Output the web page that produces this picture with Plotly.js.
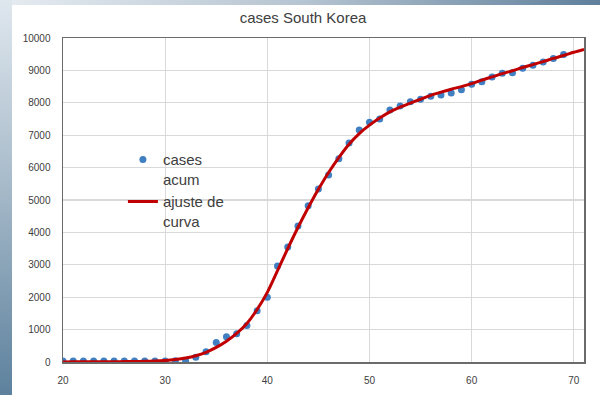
<!DOCTYPE html>
<html>
<head>
<meta charset="utf-8">
<script src="https://cdn.plot.ly/plotly-3.0.1.min.js"></script>
<style>
  html, body { margin: 0; padding: 0; background: #ffffff; }
  #wrap { position: relative; width: 600px; height: 395px; overflow: hidden; }
  #chart { position: absolute; left: 0; top: 0; width: 600px; height: 395px; }
  #leftStripe { position: absolute; left: 0; top: 0; width: 12px; height: 395px;
    background: linear-gradient(to bottom, #dfe7ee 0%, #a9bccb 45%, #5d819d 100%); pointer-events: none; }
  #topStripe { position: absolute; left: 12px; top: 0; width: 588px; height: 5px;
    background: linear-gradient(to right, #e4eaf0 0%, #b5c4d1 50%, #5f7f9b 100%); pointer-events: none; }
</style>
</head>
<body>
<div id="wrap">
  <div id="chart"></div>
  <div id="leftStripe"></div>
  <div id="topStripe"></div>
</div>
<script>
// Observed cumulative cases (day index and value)
const caseDays = [20,21,22,23,24,25,26,27,28,29,30,31,32,33,34,35,36,37,38,39,40,41,42,43,44,45,46,47,48,49,50,51,52,53,54,55,56,57,58,59,60,61,62,63,64,65,66,67,68,69];
const caseValues = [30,31,31,31,31,31,31,31,31,31,31,35,40,150,320,600,780,870,1130,1580,2000,2960,3550,4200,4820,5340,5770,6270,6760,7160,7400,7500,7780,7900,8030,8110,8200,8240,8300,8400,8570,8650,8800,8910,8930,9070,9160,9260,9370,9490];

// Fitted curve ("ajuste de curva")
const fitDays = [20,21,22,23,24,25,26,27,28,29,30,31,32,33,34,35,36,37,38,39,40,41,42,43,44,45,46,47,48,49,50,51,52,53,54,55,56,57,58,59,60,61,62,63,64,65,66,67,68,69,70,71];
const fitValues = [3,4,5,6,8,10,13,17,22,32,50,80,125,195,300,450,640,880,1190,1620,2150,2820,3500,4150,4760,5330,5850,6310,6720,7050,7310,7530,7720,7870,7990,8110,8230,8330,8420,8500,8590,8700,8800,8900,8990,9090,9180,9270,9370,9460,9560,9650];

const xTicks = [20,30,40,50,60,70];
const yTicks = [0,1000,2000,3000,4000,5000,6000,7000,8000,9000,10000];

const seriesNames = ["cases<br>acum", "ajuste de<br>curva"];
const chartTitle = "cases South Korea";

const FONT = "Liberation Sans, Arial, sans-serif";

const traces = [
  {
    x: caseDays, y: caseValues, type: "scatter", mode: "markers",
    name: seriesNames[0],
    marker: { color: "#3f7fc2", size: 7 }
  },
  {
    x: fitDays, y: fitValues, type: "scatter", mode: "lines",
    name: seriesNames[1],
    line: { color: "#c00000", width: 3, shape: "spline", smoothing: 0.8 }
  }
];

const layout = {
  width: 600, height: 395,
  margin: { l: 63, r: 16, t: 38, b: 33, pad: 0 },
  paper_bgcolor: "#ffffff",
  plot_bgcolor: "#ffffff",
  font: { family: FONT, color: "#404040" },
  title: {
    text: chartTitle,
    font: { family: FONT, size: 15, color: "#404040" },
    x: 0.505, xanchor: "center", y: 0.955, yanchor: "middle"
  },
  showlegend: true,
  legend: {
    x: 0.115, y: 0.675, xanchor: "left", yanchor: "top",
    bgcolor: "rgba(0,0,0,0)", borderwidth: 0,
    font: { family: FONT, size: 15, color: "#404040" },
    valign: "top", tracegroupgap: 0
  },
  xaxis: {
    range: [20, 71],
    tickvals: xTicks, ticktext: xTicks.map(String),
    showgrid: true, gridcolor: "#d9d9d9", gridwidth: 1.3,
    zeroline: false,
    showline: true, linecolor: "#6b6b6b", linewidth: 1.5, mirror: true,
    ticks: "", ticklabelstandoff: 8,
    tickfont: { family: FONT, size: 10, color: "#404040" }
  },
  yaxis: {
    range: [0, 10000],
    tickvals: yTicks, ticktext: yTicks.map(String),
    showgrid: true, gridcolor: "#d9d9d9", gridwidth: 1.3,
    zeroline: false,
    showline: true, linecolor: "#6b6b6b", linewidth: 1.5, mirror: true,
    ticks: "", ticklabelstandoff: 9,
    tickfont: { family: FONT, size: 10, color: "#404040" }
  }
};

Plotly.newPlot("chart", traces, layout, { staticPlot: true, displayModeBar: false });
</script>
</body>
</html>
